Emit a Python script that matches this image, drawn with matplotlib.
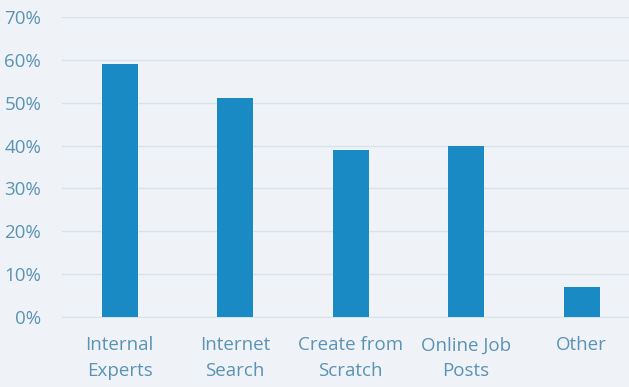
import matplotlib
matplotlib.use("Agg")
import matplotlib.pyplot as plt
from matplotlib.ticker import FuncFormatter, MultipleLocator

categories = ["Internal\nExperts", "Internet\nSearch", "Create from\nScratch", "Online Job\nPosts", "Other"]
values = [59, 51, 39, 40, 7]

bg = "#eff3f7"
bar_color = "#1a8ac4"
text_color = "#5a93b4"
grid_color = "#d8e2ea"

plt.rcParams['font.family'] = ['Open Sans', 'DejaVu Sans']

fig = plt.figure(figsize=(6.29, 3.87), dpi=100, facecolor=bg)
ax = fig.add_axes([62/629, 1-317/387, 1-62/629, (317-17)/387])
ax.set_facecolor(bg)

x = list(range(len(categories)))
ax.bar(x, values, width=0.31, color=bar_color, zorder=3)
ax.set_xlim(-0.5, 4.41)
ax.set_ylim(0, 70)
ax.yaxis.set_major_locator(MultipleLocator(10))
ax.yaxis.set_major_formatter(FuncFormatter(lambda v, p: f"{int(v)}%"))
ax.grid(axis='y', color=grid_color, linewidth=1, zorder=0)
for s in ['top', 'right', 'left']:
    ax.spines[s].set_visible(False)
ax.spines['bottom'].set_color(grid_color)
ax.tick_params(axis='both', length=0, colors=text_color, labelsize=13.5)
ax.tick_params(axis='y', pad=15)
ax.tick_params(axis='x', pad=14)
ax.set_xticks(x)
ax.set_xticklabels(categories, linespacing=1.55)

fig.savefig("out.png", dpi=100, facecolor=bg)
